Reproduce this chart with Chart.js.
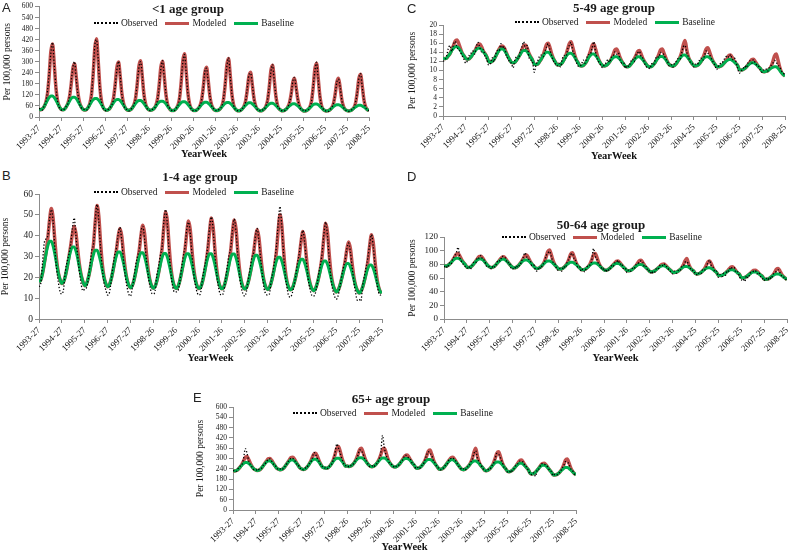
<!DOCTYPE html>
<html lang="en">
<head>
<meta charset="UTF-8">
<title>Observed, modeled and baseline rates by age group</title>
<script src="https://cdn.jsdelivr.net/npm/chart.js@4"></script>
<style>
  html, body { margin: 0; padding: 0; background: #fff; overflow: hidden; }
  body { position: relative; width: 796px; height: 554px; font-family: 'Liberation Serif', serif; color: #1a1a1a; }
  canvas { position: absolute; }
  .letter { position: absolute; font: 13px 'Liberation Sans', Arial, sans-serif; line-height: 14px; color: #222; }
  .title { position: absolute; width: 200px; text-align: center; font: bold 13px 'Liberation Serif', serif; line-height: 15px; white-space: nowrap; }
  .legend { position: absolute; display: flex; align-items: center; height: 12px; font-size: 9.5px; line-height: 12px; white-space: nowrap; }
  .legend i { display: inline-block; width: 24px; height: 0; margin-right: 3px; }
  .legend span { margin-right: 8px; }
</style>
</head>
<body>
<script>
// x ticks (one per season, 52 weeks apart)
const tickLabels = ['1993-27','1994-27','1995-27','1996-27','1997-27','1998-26','1999-26','2000-26',
  '2001-26','2002-26','2003-26','2004-25','2005-25','2006-25','2007-25','2008-25'];
const weeksPerSample = 4;   // one value every 4 weeks, 13 per season
const weeksPerTick = 52;

// ---- <1 age group ----
const obsA = [
  47,42,38,60,82,140,238,348,405,282,165,84,52,
  40,36,44,57,70,115,190,270,300,205,125,72,50,
  44,40,37,49,75,118,245,390,420,310,150,78,46,
  36,35,42,52,64,95,165,255,302,225,120,70,45,
  41,33,38,50,66,104,180,265,300,230,118,68,44,
  37,34,41,45,60,92,165,262,306,214,128,66,49,
  39,33,35,47,60,104,195,298,340,236,125,74,43,
  35,37,35,43,62,86,150,248,265,190,115,62,47,
  39,33,38,46,57,98,180,275,322,220,126,63,42,
  34,35,34,45,54,80,150,225,238,184,99,64,41,
  38,32,37,41,58,90,162,244,285,196,115,59,45,
  34,35,34,44,52,80,120,196,215,150,96,55,40,
  37,31,36,39,55,82,165,248,298,200,115,57,43,
  33,34,30,42,49,76,120,190,205,160,88,53,38,
  36,31,34,41,48,78,128,210,236,162,97,52,42,
  33];
const modA = [
  44,40,44,56,79,125,225,355,397,287,159,87,56,
  42,39,42,54,73,108,176,262,289,217,130,78,54,
  41,38,41,51,72,121,230,376,425,301,160,82,51,
  40,37,40,49,67,101,174,268,298,219,126,73,49,
  39,36,39,48,64,99,174,273,305,222,125,71,48,
  39,36,39,47,62,97,172,270,303,220,123,69,47,
  37,35,37,45,62,99,187,304,343,244,130,70,45,
  37,35,37,45,59,89,155,242,270,197,112,65,45,
  37,35,37,44,59,94,174,282,318,227,122,66,44,
  36,34,36,43,56,83,142,218,243,178,103,61,43,
  36,34,36,43,56,87,157,250,281,202,111,62,43,
  36,34,36,42,54,77,125,190,211,156,93,58,42,
  35,33,35,41,53,85,159,259,292,208,111,60,41,
  35,33,35,40,51,73,124,189,211,155,91,55,40,
  35,33,35,40,50,74,131,207,232,168,94,55,40,
  35];
const baseA = [
  44,40,44,56,73,91,106,114,114,106,91,73,56,
  42,39,42,54,69,86,100,107,107,100,86,69,54,
  41,38,41,51,66,82,94,101,101,94,82,66,51,
  40,37,40,49,63,77,89,95,95,89,77,63,49,
  39,36,39,48,60,73,84,90,90,84,73,60,48,
  39,36,39,47,58,71,81,86,86,81,71,58,47,
  37,35,37,45,57,68,78,83,83,78,68,57,45,
  37,35,37,45,55,66,75,80,80,75,66,55,45,
  37,35,37,44,54,65,74,79,79,74,65,54,44,
  36,34,36,43,53,63,72,77,77,72,63,53,43,
  36,34,36,43,52,62,70,75,75,70,62,52,43,
  36,34,36,42,51,60,67,72,72,67,60,51,42,
  35,33,35,41,49,58,66,70,70,66,58,49,41,
  35,33,35,40,48,56,63,67,67,63,56,48,40,
  35,33,35,40,47,54,60,64,64,60,54,47,40,
  35];

// ---- 1-4 age group ----
const obsB = [
  15.5,17,27,36.5,38.5,40,48,52.5,47,34,24,17.5,13,
  12,14.5,23,27.5,31,36,43.5,48.5,40,30,22.5,16.5,13.5,
  14.5,15,19,26,33,36,47.5,55,47,34,24,17,14,
  11.5,12.5,18,25,30.5,34,40.5,44,38,28.5,21,15.5,12,
  11,14.5,20,26,30,33.5,42,44.5,38.5,29,21.5,16,12.5,
  12,13.5,21,25.5,30.5,35,47,52.5,45,32,22,15.5,13,
  13,13.5,17.5,24,30,34.5,43,46.5,41,30.5,21.5,16,12.5,
  11.5,13,19.5,24.5,29,35.5,44,49,43,31,21.5,15.5,12,
  11.5,13,18.5,25,30.5,34,42.5,48,42,30.5,21,15,12,
  11,13.5,19,24,29.5,32,39.5,43.5,38,29,21,14.5,12,
  11.5,12,18.5,22.5,28.5,35,46,54,45,32,21,15,11,
  10.5,12.5,16,21,27,31.5,38.5,42.5,37,28,19.5,14.5,11.5,
  11,12,16,21.5,26,32,41,46.5,40,29,19.5,14,11,
  9.5,11,15,20,24.5,28,33.5,36.5,32.5,25,18,12.5,9,
  9.5,8.5,16,20.5,25,29.5,36,40.5,35,26,18,13,11.5,
  12];
const modB = [
  17.8,18.8,21.9,26.5,32,38.7,47.3,53,48.4,37.8,28.4,22.2,18.8,
  17,17.9,20.7,24.8,29.6,35,40.9,44.5,41.1,33.3,26,20.9,17.9,
  16,16.9,19.6,23.6,28.8,36,46.8,54.5,49.4,36.7,26.2,20,16.9,
  15.5,16.3,19,22.9,27.6,33,39.4,43.5,40,31.7,24.3,19.2,16.3,
  15,15.9,18.6,22.5,27.3,33,40.2,45,41.2,32.1,24.1,18.9,15.9,
  14.8,15.6,18.3,22.2,27.2,34.2,44.3,51.5,46.7,34.6,24.6,18.7,15.6,
  14.7,15.5,18.2,22.1,26.9,33.1,41.3,47,42.8,32.7,24,18.5,15.5,
  14.6,15.4,18.1,22,27,33.5,42.3,48.5,44.1,33.3,24.1,18.4,15.4,
  14.5,15.3,18,21.9,26.8,33.1,41.6,47.5,43.3,32.8,23.9,18.3,15.3,
  14.4,15.2,17.8,21.6,26.2,31.7,38.5,43,39.3,30.8,23.1,18,15.2,
  14.2,15,17.5,21.1,25.8,32.6,42.7,50,45.2,33.4,23.5,17.9,15,
  14,14.7,17.1,20.5,24.8,30.1,37.2,42,38.3,29.7,22.1,17.4,14.7,
  13.6,14.3,16.6,19.9,24.3,30.5,39.5,46,41.7,31,22.1,17,14.3,
  13,13.7,15.9,19.1,22.9,27.5,33.3,37,33.9,26.7,20.3,16.1,13.7,
  12.5,13.2,15.3,18.4,22.4,27.8,35.2,40.5,36.8,27.8,20.2,15.6,13.2,
  12.5];
const baseB = [
  17.8,18.8,21.9,26.5,31.2,35.1,37.3,37.3,35.1,31.2,26.5,21.9,18.8,
  17,17.9,20.7,24.8,29.1,32.7,34.6,34.6,32.7,29.1,24.8,20.7,17.9,
  16,16.9,19.6,23.6,27.7,31.1,33,33,31.1,27.7,23.6,19.6,16.9,
  15.5,16.3,19,22.9,27,30.4,32.2,32.2,30.4,27,22.9,19,16.3,
  15,15.9,18.6,22.5,26.6,30,31.8,31.8,30,26.6,22.5,18.6,15.9,
  14.8,15.6,18.3,22.2,26.2,29.6,31.4,31.4,29.6,26.2,22.2,18.3,15.6,
  14.7,15.5,18.2,22.1,26.1,29.5,31.3,31.3,29.5,26.1,22.1,18.2,15.5,
  14.6,15.4,18.1,22,26.1,29.5,31.3,31.3,29.5,26.1,22,18.1,15.4,
  14.5,15.3,18,21.9,26,29.4,31.2,31.2,29.4,26,21.9,18,15.3,
  14.4,15.2,17.8,21.6,25.6,28.8,30.6,30.6,28.8,25.6,21.6,17.8,15.2,
  14.2,15,17.5,21.1,24.8,27.9,29.6,29.6,27.9,24.8,21.1,17.5,15,
  14,14.7,17.1,20.5,24.1,27,28.7,28.7,27,24.1,20.5,17.1,14.7,
  13.6,14.3,16.6,19.9,23.4,26.3,27.9,27.9,26.3,23.4,19.9,16.6,14.3,
  13,13.7,15.9,19.1,22.4,25.1,26.7,26.7,25.1,22.4,19.1,15.9,13.7,
  12.5,13.2,15.3,18.4,21.7,24.4,25.9,25.9,24.4,21.7,18.4,15.3,13.2,
  12.5];

// ---- 5-49 age group ----
const obsC = [
  12,12.3,13.1,14.8,15.5,14.2,15.8,16.4,15.1,14.6,14,13.2,12.4,
  11.6,12.2,13.4,13.8,14.3,13.6,15.2,16.2,15,14.1,14.6,13,12.5,
  11.2,11.5,12.8,11.9,13.5,14.4,14.3,15.9,14.9,15.3,13.4,12.6,11.9,
  11.6,10.6,12.4,13,12.6,14.1,15.2,16.3,14.8,15.5,12.9,12.3,12,
  9.6,11.2,12.1,13.1,13.4,13,14.1,15.1,15.9,14.5,13.2,12.1,11.5,
  11,11.6,10.8,12.5,13.3,12.7,14.6,15.5,16.2,14.3,13.4,11.9,11,
  10.9,11.4,12.3,11.6,12.8,13.5,13.6,14.9,16.3,14,12.5,11.8,11.2,
  10.6,11.3,11.7,12.4,11.8,12.9,13.2,14.1,13.6,13.9,12.3,11.6,11.7,
  10.5,11.1,10.9,11.9,12.5,11.9,13.4,13.9,14.2,13,12.7,11.5,10.8,
  10.7,10.4,11.5,11.2,12.3,13.1,12.9,14,13.7,13.5,12.5,12,11,
  11.3,10.7,11.6,12,12.6,12.4,13.7,15.2,15.5,14,12.9,11.8,11.6,
  10.8,11.4,11.3,12.1,12.7,12.2,13.1,14.3,13.8,13.5,12.6,11.9,11.2,
  10.2,10.9,11.5,11.6,12.3,12.8,13.3,12.9,13.5,12.4,12.8,12,10.5,
  9.4,9.9,10.3,11,10.6,11.8,12.1,11.6,12.4,11.7,11.1,10.9,10.1,
  9.6,10.2,10.4,9.8,10.6,11.1,11.5,12.2,11.8,11.2,10.8,9.9,9.4,
  9.1];
const modC = [
  12.7,12.6,12.7,13.2,13.7,14.6,15.5,16.5,16.7,15.9,14.8,13.8,13.2,
  12.6,12.5,12.6,13,13.6,14.2,15,15.7,15.8,15.2,14.3,13.7,13,
  12,11.8,12,12.4,13.1,13.9,14.7,15.3,15.4,14.9,14,13.1,12.4,
  11.8,11.7,11.8,12.3,12.9,13.6,14.6,15.4,15.6,14.9,13.8,13,12.3,
  11.4,11.3,11.4,11.9,12.5,13.3,14.5,15.7,16,15,13.6,12.6,11.9,
  11.3,11.2,11.3,11.7,12.4,13.3,14.6,15.9,16.3,15.1,13.6,12.4,11.7,
  11.1,11,11.1,11.5,12.1,13.1,14.2,15.5,15.8,14.7,13.3,12.2,11.5,
  11.1,11,11.1,11.4,11.9,12.6,13.5,14.5,14.7,13.9,12.8,12,11.4,
  10.9,10.8,10.9,11.3,11.8,12.5,13.3,14.2,14.4,13.6,12.6,11.9,11.3,
  10.9,10.8,10.9,11.3,11.8,12.6,13.5,14.5,14.7,13.8,12.8,11.9,11.3,
  11.1,11,11.1,11.5,12.1,12.8,13.9,15.6,16.6,14.5,12.9,12.1,11.5,
  11.1,11,11.1,11.4,11.9,12.6,13.6,14.7,15,14.1,12.9,12,11.4,
  10.9,10.8,10.9,11.1,11.5,12,12.6,13.3,13.4,12.8,12.1,11.6,11.1,
  10.2,10.1,10.2,10.4,10.8,11.3,11.8,12.4,12.5,12,11.4,10.8,10.4,
  9.8,9.7,9.8,9.9,10.3,10.8,11.9,13.2,13.6,12.3,10.7,9.6,9.1,
  8.8];
const baseC = [
  12.7,12.6,12.7,13.2,13.7,14.4,14.9,15.2,15.2,14.9,14.4,13.7,13.2,
  12.6,12.5,12.6,13,13.6,14.1,14.6,14.9,14.9,14.6,14.1,13.6,13,
  12,11.8,12,12.4,13.1,13.8,14.4,14.7,14.7,14.4,13.8,13.1,12.4,
  11.8,11.7,11.8,12.3,12.9,13.5,14.1,14.4,14.4,14.1,13.5,12.9,12.3,
  11.4,11.3,11.4,11.9,12.5,13.1,13.7,14,14,13.7,13.1,12.5,11.9,
  11.3,11.2,11.3,11.7,12.3,13,13.5,13.8,13.8,13.5,13,12.3,11.7,
  11.1,11,11.1,11.5,12.1,12.8,13.3,13.6,13.6,13.3,12.8,12.1,11.5,
  11.1,11,11.1,11.4,11.9,12.4,12.8,13,13,12.8,12.4,11.9,11.4,
  10.9,10.8,10.9,11.3,11.8,12.3,12.7,13,13,12.7,12.3,11.8,11.3,
  10.9,10.8,10.9,11.3,11.8,12.4,12.8,13.1,13.1,12.8,12.4,11.8,11.3,
  11.1,11,11.1,11.5,12.1,12.6,13.1,13.4,13.4,13.1,12.6,12.1,11.5,
  11.1,11,11.1,11.4,11.9,12.4,12.8,13,13,12.8,12.4,11.9,11.4,
  10.9,10.8,10.9,11.1,11.5,11.9,12.2,12.4,12.4,12.2,11.9,11.5,11.1,
  10.2,10.1,10.2,10.4,10.8,11.2,11.5,11.7,11.7,11.5,11.2,10.8,10.4,
  9.8,9.7,9.8,9.9,10.2,10.5,10.7,10.8,10.8,10.5,10,9.5,9.1,
  8.8];

// ---- 50-64 age group ----
const obsD = [
  76,78,75,82,80,88,92,97,105,90,84,80,77,
  74,77,73,79,83,82,90,89,93,87,86,78,76,
  77,73,78,76,82,86,85,92,90,89,82,83,75,
  73,76,74,79,78,84,90,97,91,88,85,78,79,
  72,70,76,74,80,82,92,96,99,92,83,81,74,
  71,74,70,77,75,83,88,94,96,88,85,76,77,
  70,73,69,75,78,79,86,103,92,87,80,78,72,
  74,69,73,71,78,76,82,83,86,80,81,74,75,
  68,72,70,74,73,79,80,84,85,83,76,77,70,
  71,66,70,69,75,74,79,78,81,77,76,71,69,
  66,70,67,71,70,76,77,83,84,80,74,73,68,
  68,64,67,66,72,71,76,82,86,78,76,69,70,
  61,65,62,67,64,71,70,76,74,75,68,69,62,
  57,59,55,63,60,67,68,70,71,66,68,62,60,
  56,60,57,61,59,65,67,70,72,68,63,62,58,
  58];
const modD = [
  78.1,77.5,78.1,79.9,82.7,86.2,90.6,94.9,96,92.1,87,83,79.9,
  76.1,75.5,76.1,78.1,81.1,84.5,88.2,91.4,92,89.1,85,81.2,78.1,
  76.1,75.5,76.1,78,80.9,84.1,87.6,90.5,91,88.4,84.6,81,78,
  75.6,75,75.6,77.4,80.2,83.7,88.1,92.4,93.5,89.6,84.5,80.5,77.4,
  74.6,74,74.6,76.3,79.1,83.4,90.5,98.6,101,94,85.4,79.6,76.3,
  73.5,73,73.5,75.1,77.7,81.5,87.7,94.9,97,90.8,83.2,78.1,75.1,
  72.5,72,72.5,74.1,76.7,80.5,86.7,93.9,96,89.8,82.2,77.1,74.1,
  72,71.5,72,73.6,76,78.7,81.8,84.4,85,82.6,79.2,76.1,73.6,
  71,70.5,71,72.5,74.8,77.7,81.5,85.1,86,82.8,78.5,75,72.5,
  69.5,69,69.5,70.9,73.1,75.4,78,80.1,80.5,78.6,75.7,73.1,70.9,
  68.5,68,68.5,69.9,72,74.7,78.8,85,88.5,81.1,75.3,72,69.9,
  66.5,66,66.5,67.9,70.2,73.3,78.1,83.5,85,80.4,74.5,70.5,67.9,
  63.9,63.5,63.9,65.3,67.3,69.9,72.9,75.8,76.5,73.9,70.4,67.4,65.3,
  60.9,60.5,60.9,62.3,64.3,66.6,69.1,71.1,71.5,69.7,66.9,64.3,62.3,
  58.4,58,58.4,59.7,61.7,64.4,68.4,72.8,74,70.2,65.3,61.9,59.7,
  57.5];
const baseD = [
  78.1,77.5,78.1,79.9,82.6,85.3,87.6,88.9,88.9,87.6,85.3,82.6,79.9,
  76.1,75.5,76.1,78.1,81,84,86.5,87.9,87.9,86.5,84,81,78.1,
  76.1,75.5,76.1,78,80.8,83.7,86.1,87.4,87.4,86.1,83.7,80.8,78,
  75.6,75,75.6,77.4,80.1,82.8,85.1,86.4,86.4,85.1,82.8,80.1,77.4,
  74.6,74,74.6,76.3,78.8,81.5,83.7,84.9,84.9,83.7,81.5,78.8,76.3,
  73.5,73,73.5,75.1,77.4,79.8,81.8,82.9,82.9,81.8,79.8,77.4,75.1,
  72.5,72,72.5,74.1,76.4,78.8,80.8,81.9,81.9,80.8,78.8,76.4,74.1,
  72,71.5,72,73.6,75.9,78.3,80.3,81.4,81.4,80.3,78.3,75.9,73.6,
  71,70.5,71,72.5,74.7,77,78.9,79.9,79.9,78.9,77,74.7,72.5,
  69.5,69,69.5,70.9,73,75.1,76.9,77.9,77.9,76.9,75.1,73,70.9,
  68.5,68,68.5,69.9,72,74.1,75.9,76.9,76.9,75.9,74.1,72,69.9,
  66.5,66,66.5,67.9,70,72.1,73.9,74.9,74.9,73.9,72.1,70,67.9,
  63.9,63.5,63.9,65.3,67.2,69.3,71,71.9,71.9,71,69.3,67.2,65.3,
  60.9,60.5,60.9,62.3,64.2,66.3,68,68.9,68.9,68,66.3,64.2,62.3,
  58.4,58,58.4,59.7,61.5,63.4,65,65.9,65.9,65,63.4,61.5,59.7,
  57.5];

// ---- 65+ age group ----
const obsE = [
  228,232,226,243,255,262,300,358,330,285,262,248,235,
  236,228,238,240,258,266,280,295,298,284,268,259,244,
  234,239,235,250,256,278,288,302,300,292,270,266,242,
  242,234,244,246,268,274,300,335,322,300,282,260,252,
  244,248,241,258,266,290,330,385,360,330,295,268,258,
  260,250,258,262,280,292,318,350,345,325,296,282,262,
  252,258,250,266,272,296,330,435,365,320,298,272,266,
  256,247,256,258,276,284,306,320,315,300,292,270,264,
  242,248,240,258,262,288,318,340,330,318,286,272,250,
  244,234,243,246,266,272,296,300,304,290,282,258,252,
  236,240,232,250,254,276,294,330,345,300,280,262,242,
  234,226,236,236,256,268,296,330,325,305,282,250,244,
  222,228,218,236,242,262,270,285,282,280,256,250,226,
  212,204,216,196,236,240,265,270,268,258,250,230,224,
  200,208,203,216,220,242,258,282,278,268,240,230,210,
  206];
const modE = [
  230,227,230,238,250,265,286,307,312,293,269,251,238,
  233,230,233,242,255,270,285,298,300,289,272,256,242,
  237,234,237,246,260,275,292,306,308,296,277,261,246,
  239,236,239,249,263,281,304,326,331,312,286,264,249,
  246,243,246,255,270,291,324,360,370,339,300,273,255,
  256,253,256,264,277,296,323,352,360,335,302,279,264,
  255,252,255,263,276,294,322,352,360,335,301,278,263,
  253,250,253,261,272,287,303,317,320,308,290,273,261,
  246,243,246,254,267,285,312,341,349,324,291,269,254,
  240,237,240,249,262,277,292,305,307,296,279,263,249,
  238,235,238,246,257,273,298,337,359,312,276,257,246,
  232,229,232,240,253,271,300,331,340,313,278,255,240,
  226,223,226,233,245,258,274,288,291,278,261,246,233,
  213,210,213,221,233,246,261,270,272,263,248,234,221,
  206,204,206,213,224,239,263,290,297,274,245,226,213,
  205];
const baseE = [
  230,227,230,238,249,261,271,277,277,271,261,249,238,
  233,230,233,242,255,268,279,285,285,279,268,255,242,
  237,234,237,246,260,273,285,291,291,285,273,260,246,
  239,236,239,249,262,277,289,295,295,289,277,262,249,
  246,243,246,255,269,283,295,301,301,295,283,269,255,
  256,253,256,264,276,289,300,305,305,300,289,276,264,
  255,252,255,263,275,287,298,303,303,298,287,275,263,
  253,250,253,261,272,285,295,300,300,295,285,272,261,
  246,243,246,254,266,278,289,294,294,289,278,266,254,
  240,237,240,249,262,275,286,292,292,286,275,262,249,
  238,235,238,246,257,269,279,285,285,279,269,257,246,
  232,229,232,240,252,264,275,280,280,275,264,252,240,
  226,223,226,233,245,256,266,272,272,266,256,245,233,
  213,210,213,221,233,245,256,261,261,256,245,233,221,
  206,204,206,213,223,233,242,247,247,242,233,223,213,
  205];

const RED = '#C0504D';
const GREEN = '#00B050';
const AXIS = '#8c8c8c';
const SERIF = "'Liberation Serif', 'Times New Roman', serif";

const panels = [
  { letter: 'A', title: '<1 age group', obs: obsA, mod: modA, base: baseA, yMax: 600, yStep: 60, yFont: 7.5,
    box: [0, 0, 383, 161], pad: { left: 2, top: 6, right: 14, bottom: 0 }, yW: 37, xH: 44,
    letterAt: [2, 1], titleAt: [188, 1], legendAt: [94, 17] },
  { letter: 'B', title: '1-4 age group', obs: obsB, mod: modB, base: baseB, yMax: 60, yStep: 10, yFont: 9.5,
    box: [0, 186, 396, 179], pad: { left: 0, top: 8, right: 14, bottom: 0 }, yW: 39, xH: 46,
    letterAt: [2, 169], titleAt: [200, 169], legendAt: [94, 186] },
  { letter: 'C', title: '5-49 age group', obs: obsC, mod: modC, base: baseC, yMax: 20, yStep: 2, yFont: 7.5,
    box: [400, 17, 400, 146], pad: { left: 7, top: 8, right: 15, bottom: 0 }, yW: 36, xH: 47,
    letterAt: [407, 2], titleAt: [614, 0], legendAt: [515, 16] },
  { letter: 'D', title: '50-64 age group', obs: obsD, mod: modD, base: baseD, yMax: 120, yStep: 20, yFont: 9,
    box: [400, 229, 400, 136], pad: { left: 7, top: 8, right: 13, bottom: 0 }, yW: 37, xH: 46,
    letterAt: [407, 170], titleAt: [601, 217], legendAt: [502, 231] },
  { letter: 'E', title: '65+ age group', obs: obsE, mod: modE, base: baseE, yMax: 600, yStep: 60, yFont: 7.5,
    box: [190, 399, 400, 155], pad: { left: 5, top: 8, right: 14, bottom: 0 }, yW: 38, xH: 44,
    letterAt: [193, 391], titleAt: [391, 391], legendAt: [293, 407] }
];

function toPts(vals) {
  return vals.map((v, i) => ({ x: i * weeksPerSample, y: v }));
}

function addDiv(cls, x, y) {
  const d = document.createElement('div');
  d.className = cls;
  d.style.left = x + 'px';
  d.style.top = y + 'px';
  document.body.appendChild(d);
  return d;
}

panels.forEach(p => {
  const cv = document.createElement('canvas');
  cv.width = p.box[2];
  cv.height = p.box[3];
  cv.style.left = p.box[0] + 'px';
  cv.style.top = p.box[1] + 'px';
  document.body.appendChild(cv);

  new Chart(cv, {
    type: 'line',
    data: {
      datasets: [
        { label: 'Observed', data: toPts(p.obs), borderColor: '#000', borderWidth: 1.3, borderDash: [1.3, 1.9],
          pointRadius: 0, order: 0, cubicInterpolationMode: 'monotone' },
        { label: 'Baseline', data: toPts(p.base), borderColor: GREEN, borderWidth: 3,
          pointRadius: 0, order: 1, cubicInterpolationMode: 'monotone' },
        { label: 'Modeled', data: toPts(p.mod), borderColor: RED, borderWidth: 3.5,
          pointRadius: 0, order: 2, cubicInterpolationMode: 'monotone' }
      ]
    },
    options: {
      responsive: false,
      animation: false,
      devicePixelRatio: 1,
      layout: { padding: p.pad },
      plugins: { legend: { display: false }, tooltip: { enabled: false } },
      scales: {
        x: {
          type: 'linear', min: 0, max: (tickLabels.length - 1) * weeksPerTick,
          afterBuildTicks: s => { s.ticks = tickLabels.map((_, i) => ({ value: i * weeksPerTick })); },
          afterFit: s => { s.height = p.xH; },
          ticks: { autoSkip: false, minRotation: 45, maxRotation: 45, padding: 2,
            font: { family: SERIF, size: 9 }, color: '#1a1a1a',
            callback: (v, i) => tickLabels[i] },
          grid: { drawOnChartArea: false, tickLength: 4, color: AXIS },
          border: { color: AXIS },
          title: { display: true, text: 'YearWeek', color: '#111', padding: 0,
            font: { family: SERIF, size: 10.5, weight: 'bold' } }
        },
        y: {
          min: 0, max: p.yMax,
          afterFit: s => { s.width = p.yW; },
          ticks: { autoSkip: false, stepSize: p.yStep, padding: 2,
            font: { family: SERIF, size: p.yFont }, color: '#1a1a1a' },
          grid: { drawOnChartArea: false, tickLength: 4, color: AXIS },
          border: { color: AXIS },
          title: { display: true, text: 'Per 100,000 persons', color: '#1a1a1a', padding: 0,
            font: { family: SERIF, size: 9.5 } }
        }
      }
    }
  });

  addDiv('letter', p.letterAt[0], p.letterAt[1]).textContent = p.letter;
  addDiv('title', p.titleAt[0] - 100, p.titleAt[1]).textContent = p.title;

  const lg = addDiv('legend', p.legendAt[0], p.legendAt[1]);
  [['Observed', 'border-top:2px dotted #000'],
   ['Modeled', 'border-top:3px solid ' + RED],
   ['Baseline', 'border-top:3px solid ' + GREEN]].forEach(([name, style]) => {
    const line = document.createElement('i');
    line.style.cssText = style;
    const txt = document.createElement('span');
    txt.textContent = name;
    lg.appendChild(line);
    lg.appendChild(txt);
  });
});
</script>
</body>
</html>
